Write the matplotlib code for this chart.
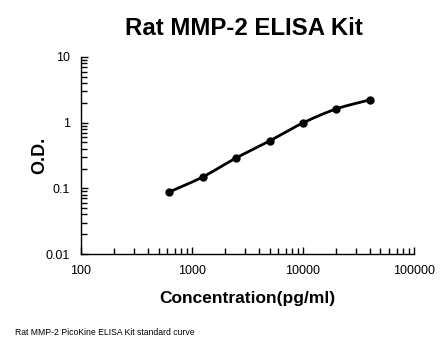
import numpy as np
import matplotlib
matplotlib.use("Agg")
import matplotlib.pyplot as plt
from matplotlib.ticker import LogLocator, FixedLocator, FixedFormatter, NullFormatter

plt.rcParams['font.family'] = ['Liberation Sans', 'DejaVu Sans']

# standard curve data
conc = [625, 1250, 2500, 5000, 10000, 20000, 40000]
od = [0.088, 0.149, 0.29, 0.526, 0.99, 1.62, 2.22]
x_ticks = [100, 1000, 10000, 100000]
y_ticks = [0.01, 0.1, 1, 10]
y_labels = ['0.01', '0.1', '1', '10']


# smooth line like excel (catmull-rom in log space)
def smooth(xs, ys, n=30):
    lx = np.log10(xs)
    ly = np.log10(ys)
    px = np.concatenate([[2 * lx[0] - lx[1]], lx, [2 * lx[-1] - lx[-2]]])
    py = np.concatenate([[2 * ly[0] - ly[1]], ly, [2 * ly[-1] - ly[-2]]])
    outx, outy = [], []
    for i in range(1, len(px) - 2):
        t = np.linspace(0, 1, n)
        for p, out in ((px, outx), (py, outy)):
            p0, p1, p2, p3 = p[i - 1], p[i], p[i + 1], p[i + 2]
            v = 0.5 * ((2 * p1) + (-p0 + p2) * t + (2 * p0 - 5 * p1 + 4 * p2 - p3) * t ** 2
                       + (-p0 + 3 * p1 - 3 * p2 + p3) * t ** 3)
            out.extend(v)
    return 10 ** np.array(outx), 10 ** np.array(outy)


fig = plt.figure(figsize=(4.46, 3.56), dpi=100)
ax = fig.add_axes([0.1816, 0.2865, 0.928 - 0.1816, 0.84 - 0.2865])

sx, sy = smooth(conc, od)
ax.plot(sx, sy, color='black', lw=2)
ax.plot(conc, od, 'o', color='black', ms=5)

ax.set_xscale('log')
ax.set_yscale('log')
ax.set_xlim(100, 100000)
ax.set_ylim(0.01, 10)

ax.xaxis.set_major_locator(FixedLocator(x_ticks))
ax.xaxis.set_major_formatter(FixedFormatter([str(v) for v in x_ticks]))
ax.yaxis.set_major_locator(FixedLocator(y_ticks))
ax.yaxis.set_major_formatter(FixedFormatter(y_labels))
ax.xaxis.set_minor_locator(LogLocator(base=10, subs=np.arange(2, 10)))
ax.yaxis.set_minor_locator(LogLocator(base=10, subs=np.arange(2, 10)))
ax.xaxis.set_minor_formatter(NullFormatter())
ax.yaxis.set_minor_formatter(NullFormatter())

ax.tick_params(which='both', direction='in', length=5, width=1, labelsize=9, pad=8)
ax.tick_params(which='minor', length=4)

for s in ['top', 'right']:
    ax.spines[s].set_visible(False)
for s in ['left', 'bottom']:
    ax.spines[s].set_linewidth(1)

ax.set_xlabel('Concentration(pg/ml)', fontsize=12.5, fontweight='bold', labelpad=10)
ax.set_ylabel('O.D.', fontsize=13, fontweight='bold', labelpad=-2)
fig.text(0.546, 0.921, 'Rat MMP-2 ELISA Kit', ha='center', va='center', fontsize=17.3, fontweight='bold')
fig.text(0.034, 0.065, 'Rat MMP-2 PicoKine ELISA Kit standard curve', ha='left', va='center', fontsize=6.2)

fig.savefig('out.png', dpi=100)
